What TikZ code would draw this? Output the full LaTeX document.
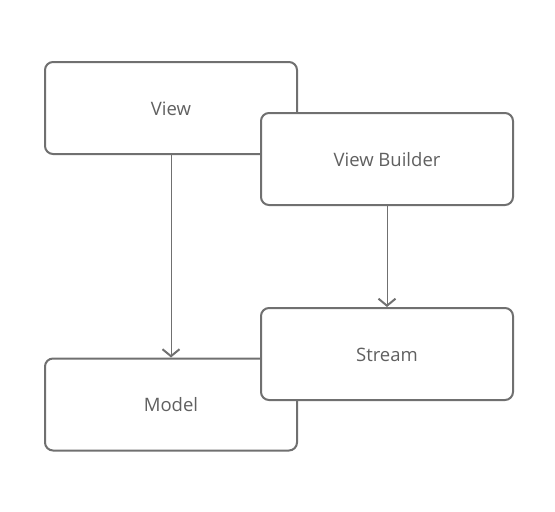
\documentclass[tikz,border=0pt]{standalone}
\usepackage{fontspec}
\setmainfont{Open Sans}
\usetikzlibrary{arrows.meta}
\definecolor{boxline}{RGB}{112,112,112}
\definecolor{boxtext}{RGB}{96,96,96}

\begin{document}
\begin{tikzpicture}[
    x=1pt, y=-1pt,
    block/.style={rectangle, rounded corners=8pt, draw=boxline, line width=2pt, fill=white, minimum width=252pt, minimum height=92pt, text height=18pt, text depth=4pt, align=center, text=boxtext, font=\fontsize{18.5}{22}\selectfont},
    arrow/.style={draw=boxline, line width=0.8pt, -{Straight Barb[length=7pt, width=17pt, line width=2pt]}}
]
\useasboundingbox (0,0) rectangle (555,512);

% Left column
\node[block] (view) at (171,108) {View};
\node[block] (model) at (171,404.5) {Model};

% Right column
\node[block] (builder) at (387,159) {View Builder};
\node[block] (stream) at (387,354) {Stream};

% Arrows
\draw[arrow] (view) -- (model);
\draw[arrow] (builder) -- (stream);

\end{tikzpicture}
\end{document}
